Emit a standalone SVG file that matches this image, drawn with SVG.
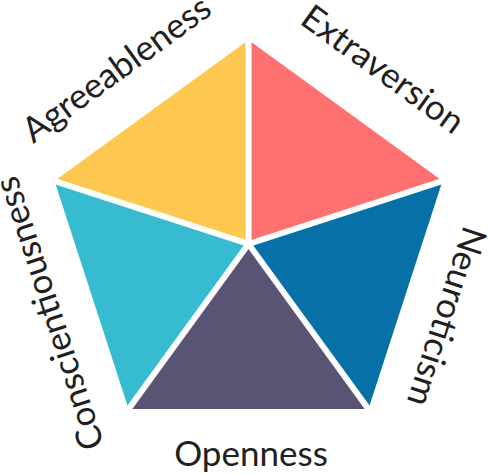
<svg xmlns="http://www.w3.org/2000/svg" width="488" height="475" viewBox="0 0 488 475">
<style>
.lbl{font-family:Lato,"Open Sans","Liberation Sans",sans-serif;font-size:35px;fill:#231f20;text-anchor:middle}
.gap{stroke:#fff;stroke-width:6;stroke-linecap:square}
</style>
<rect width="488" height="475" fill="#fff"/>
<g id="agreeableness">
<polygon points="248.5,244 54.5,181 248.5,40" fill="#fec850"/>
<text class="lbl" x="123.5" y="78.5" transform="rotate(-36 123.5 78.5)">Agreeableness</text>
</g>
<g id="extraversion">
<polygon points="248.5,244 248.5,40 442.5,181" fill="#ff7070"/>
<text class="lbl" x="376" y="79" transform="rotate(36 376 79)">Extraversion</text>
</g>
<g id="neuroticism">
<polygon points="248.5,244 442.5,181 368.4,409" fill="#0771a7"/>
<text class="lbl" x="435.3" y="313" transform="rotate(108 435.3 313)">Neuroticism</text>
</g>
<g id="openness">
<polygon points="248.5,244 368.4,409 128.6,409" fill="#5a5474"/>
<text class="lbl" x="251" y="466">Openness</text>
</g>
<g id="conscientiousness">
<polygon points="248.5,244 128.6,409 54.5,181" fill="#36bbd1"/>
<text class="lbl" x="60.6" y="309.8" transform="rotate(-108 60.6 309.8)">Conscientiousness</text>
</g>
<g id="connectors">
<line class="gap" x1="248.5" y1="244" x2="248.5" y2="36"/>
<line class="gap" x1="248.5" y1="244" x2="446.3" y2="179.8"/>
<line class="gap" x1="248.5" y1="244" x2="370.8" y2="412.3"/>
<line class="gap" x1="248.5" y1="244" x2="126.2" y2="412.3"/>
<line class="gap" x1="248.5" y1="244" x2="50.7" y2="179.8"/>
</g>
</svg>
